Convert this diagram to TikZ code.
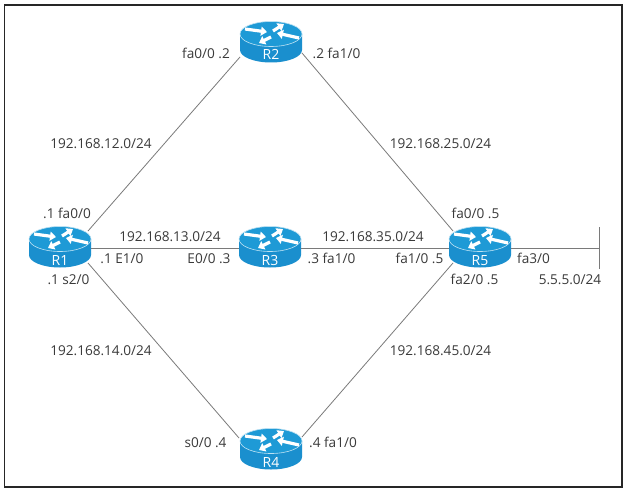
\documentclass[tikz,border=0pt]{standalone}
\usepackage{fontspec}
\setmainfont{Open Sans}
\usetikzlibrary{calc,arrows.meta}
\definecolor{rbody}{HTML}{1A8FCE}
\definecolor{rtop}{HTML}{1E9AD6}
\definecolor{lnk}{HTML}{7A7A7A}
\definecolor{txt}{HTML}{3A3A3A}
\tikzset{
  x=1pt,y=-1pt,
  frame/.style={draw=black!85,line width=1.8pt},
  link/.style={draw=lnk,line width=0.8pt},
  lbl/.style={font=\fontsize{13.6}{15}\selectfont,text=txt,inner sep=0pt,text height=10pt,text depth=0pt,anchor=center},
  rname/.style={font=\fontsize{14}{16}\selectfont,text=white,inner sep=0pt,text height=10pt,text depth=0pt},
  rbox/.style={inner sep=0pt,minimum width=56pt,minimum height=32pt},
  rarrow/.style={white,line width=3.2pt,-{Triangle[length=6pt,width=9pt]}},
}
\newcommand{\routerdraw}[3]{%
  \begin{scope}[shift={(#2,#3)}]
    \fill[rbody] (-31,-8) -- (-31,8) arc[x radius=31,y radius=12.5,start angle=180,end angle=0] -- (31,-8) -- cycle;
    \fill[rtop,draw=white!70!rtop,line width=0.6pt] (0,-8) ellipse[x radius=31,y radius=12.5];
    \draw[rarrow] (-26,-13) -- (-4,-10);
    \draw[rarrow] (2,-11) -- (13,-18);
    \draw[rarrow] (28,-4) -- (6,-9);
    \draw[rarrow] (0,-5) -- (-12,1);
    \node[rname] (#1t) at (0,13) {#1};
    \node[rbox] (#1) at (0,0) {};
  \end{scope}}
\begin{document}
\begin{tikzpicture}
\useasboundingbox (0,0) rectangle (628,492);
\fill[white] (0,0) rectangle (628,492);
\draw[frame] (4.5,5) rectangle (622,487);
\routerdraw{R1}{60}{247}
\routerdraw{R2}{271}{42}
\routerdraw{R3}{270}{247}
\routerdraw{R4}{271}{449}
\routerdraw{R5}{480}{247}
\coordinate (netT) at (599,227);
\coordinate (netB) at (599,269);
\coordinate (net) at (599,248);
\draw[link] ($(R1)+(28,-16)$) -- ($(R2)+(-31,15)$);
\draw[link] ($(R2)+(31,11)$) -- ($(R5)+(-27,-16)$);
\draw[link] ($(R1)+(28,16)$) -- ($(R4)+(-32,-11)$);
\draw[link] ($(R4)+(31,-12)$) -- ($(R5)+(-27,16)$);
\draw[link] ($(R1)+(31,1)$) -- ($(R3)+(-31,1)$);
\draw[link] ($(R3)+(31,1)$) -- ($(R5)+(-31,1)$);
\draw[link] ($(R5)+(31,1)$) -- (net);
\draw[link] (netT) -- (netB);
\node[lbl] (l1) at (206,54) {fa0/0 .2};
\node[lbl] (l2) at (336.5,54) {.2 fa1/0};
\node[lbl] (l3) at (101,143) {192.168.12.0/24};
\node[lbl] (l4) at (440.5,143) {192.168.25.0/24};
\node[lbl] (l5) at (67,213) {.1 fa0/0};
\node[lbl] (l6) at (475.5,213) {fa0/0 .5};
\node[lbl] (l7) at (170,236) {192.168.13.0/24};
\node[lbl] (l8) at (373,236) {192.168.35.0/24};
\node[lbl] (l9) at (122,258) {.1 E1/0};
\node[lbl] (l10) at (209,258) {E0/0 .3};
\node[lbl] (l11) at (331.5,258) {.3 fa1/0};
\node[lbl] (l12) at (419.5,258) {fa1/0 .5};
\node[lbl] (l13) at (533.5,258) {fa3/0};
\node[lbl] (l14) at (68.5,279) {.1 s2/0};
\node[lbl] (l15) at (474.5,279) {fa2/0 .5};
\node[lbl] (l16) at (570,279) {5.5.5.0/24};
\node[lbl] (l17) at (101,350) {192.168.14.0/24};
\node[lbl] (l18) at (440.5,350) {192.168.45.0/24};
\node[lbl] (l19) at (205.5,442) {s0/0 .4};
\node[lbl] (l20) at (333,442) {.4 fa1/0};
\end{tikzpicture}
\end{document}
